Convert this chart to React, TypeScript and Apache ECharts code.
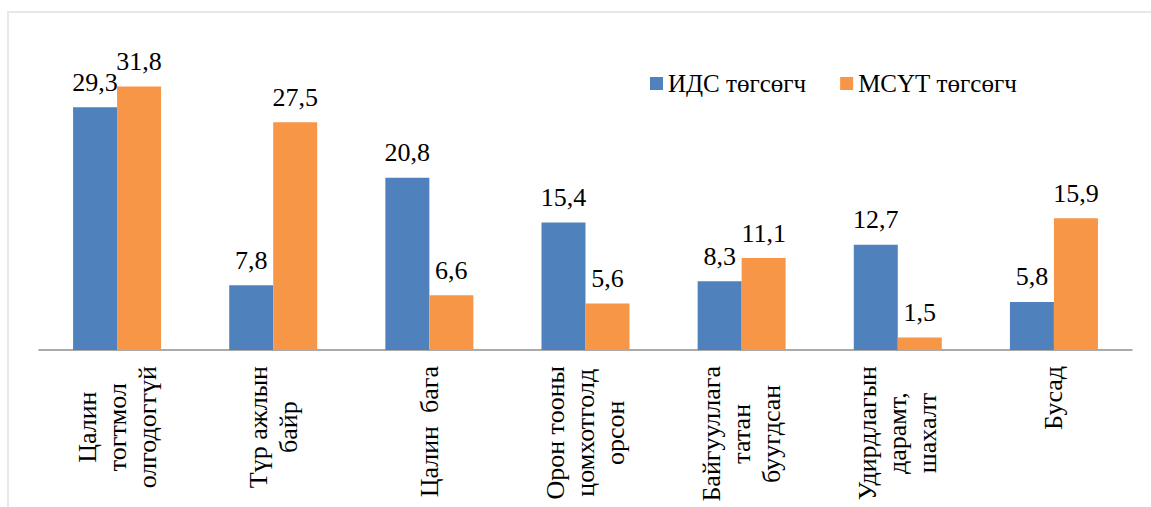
import React, { useEffect, useRef } from "react";
import * as echarts from "echarts";

const categories: string[] = [
  "Цалин\nтогтмол\nолгодоггүй",
  "Түр ажлын\nбайр",
  "Цалин  бага",
  "Орон тооны\nцомхотголд\nорсон",
  "Байгууллага\nтатан\nбуугдсан",
  "Удирдлагын\nдарамт,\nшахалт",
  "Бусад",
];
const seriesNames: string[] = ["ИДС төгсөгч", "МСҮТ төгсөгч"];
const idsValues: number[] = [29.3, 7.8, 20.8, 15.4, 8.3, 12.7, 5.8];
const msutValues: number[] = [31.8, 27.5, 6.6, 5.6, 11.1, 1.5, 15.9];

const FONT = "Liberation Serif";

export default function App() {
  const ref = useRef<HTMLDivElement>(null);
  useEffect(() => {
    if (!ref.current) return;
    const chart = echarts.init(ref.current, undefined, { renderer: "svg" });
    const label = {
      show: true,
      position: "top" as const,
      distance: 12,
      color: "#000",
      fontFamily: FONT,
      fontSize: 26,
      formatter: (p: any) => String(p.value).replace(".", ","),
    };
    chart.setOption({
      animation: false,
      textStyle: { fontFamily: FONT },
      graphic: [
        {
          type: "rect",
          shape: { x: 8, y: 12, width: 1200, height: 600 },
          style: { fill: "none", stroke: "#e8e8e8", lineWidth: 2 },
          silent: true,
        },
      ],
      legend: {
        left: 645,
        top: 66,
        itemWidth: 13,
        itemHeight: 13,
        itemGap: 34,
        icon: "rect",
        textStyle: { fontFamily: FONT, fontSize: 25, color: "#000" },
        data: seriesNames,
      },
      grid: {
        left: 39,
        right: 19,
        top: 60,
        bottom: 157,
        containLabel: false,
        outerBoundsMode: "none",
      },
      xAxis: {
        type: "category",
        data: categories,
        axisLine: { show: true, lineStyle: { color: "#8e8e8e", width: 1.5 } },
        axisTick: { show: false },
        axisLabel: {
          interval: 0,
          rotate: 90,
          margin: 16,
          fontFamily: FONT,
          fontSize: 26,
          lineHeight: 30,
          color: "#000",
          formatter: (v: string) =>
            v
              .split("\n")
              .map((l) => "{a|" + l + "}")
              .join("\n"),
          rich: {
            a: {
              align: "center",
              fontFamily: FONT,
              fontSize: 26,
              lineHeight: 30,
              color: "#000",
            },
          },
        },
      },
      yAxis: {
        type: "value",
        min: 0,
        max: 35,
        show: false,
        splitLine: { show: false },
      },
      series: [
        {
          name: seriesNames[0],
          type: "bar",
          data: idsValues,
          barWidth: 44,
          barGap: "0%",
          itemStyle: { color: "#4f81bd" },
          label,
        },
        {
          name: seriesNames[1],
          type: "bar",
          data: msutValues,
          barWidth: 44,
          itemStyle: { color: "#f79646" },
          label,
        },
      ],
    });
    return () => chart.dispose();
  }, []);
  return (
    <div
      ref={ref}
      style={{
        position: "absolute",
        left: 0,
        top: 0,
        width: 1151,
        height: 507,
        background: "#fff",
        fontFamily: FONT,
      }}
    />
  );
}
